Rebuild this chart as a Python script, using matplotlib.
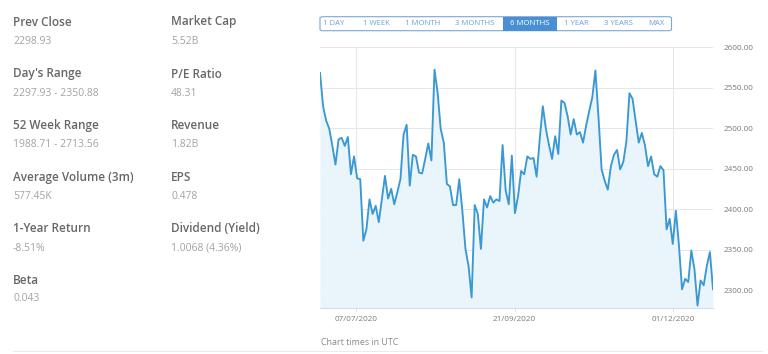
import matplotlib
matplotlib.use("Agg")
import matplotlib.pyplot as plt
from matplotlib.patches import FancyBboxPatch, Rectangle
from matplotlib.lines import Line2D
import numpy as np

plt.rcParams['font.family'] = ['Open Sans', 'DejaVu Sans']

# ---- data ----
prices = [2568, 2527, 2509, 2499, 2478, 2455, 2486, 2488, 2478, 2489,
          2443, 2465, 2438, 2437, 2361, 2375, 2412, 2394, 2404, 2384,
          2412, 2441, 2413, 2425, 2406, 2421, 2437, 2492, 2504, 2429,
          2467, 2465, 2445, 2444, 2462, 2481, 2460, 2572, 2544, 2499,
          2482, 2431, 2428, 2405, 2405, 2437, 2398, 2351, 2330, 2291,
          2405, 2394, 2351, 2412, 2402, 2416, 2408, 2412, 2410, 2479,
          2423, 2406, 2466, 2395, 2416, 2447, 2443, 2465, 2462, 2463,
          2440, 2486, 2527, 2499, 2479, 2462, 2490, 2468, 2534, 2531,
          2515, 2492, 2511, 2492, 2495, 2482, 2503, 2521, 2538, 2571,
          2513, 2449, 2435, 2424, 2453, 2467, 2473, 2449, 2458, 2483,
          2543, 2536, 2509, 2482, 2494, 2479, 2453, 2465, 2443, 2440,
          2453, 2448, 2375, 2388, 2357, 2398, 2355, 2301, 2314, 2310,
          2349, 2326, 2281, 2312, 2306, 2330, 2347, 2301]
x_tick_pos = [11.7, 62.9, 114.1]
x_tick_labels = ["07/07/2020", "21/09/2020", "01/12/2020"]
y_ticks = [2300, 2350, 2400, 2450, 2500, 2550, 2600]

stat_labels_col1 = ["Prev Close", "Day's Range", "52 Week Range",
                    "Average Volume (3m)", "1-Year Return", "Beta"]
stat_values_col1 = ["2298.93", "2297.93 - 2350.88", "1988.71 - 2713.56",
                    "577.45K", "-8.51%", "0.043"]
stat_labels_col2 = ["Market Cap", "P/E Ratio", "Revenue", "EPS",
                    "Dividend (Yield)"]
stat_values_col2 = ["5.52B", "48.31", "1.82B", "0.478", "1.0068 (4.36%)"]

range_buttons = ["1 DAY", "1 WEEK", "1 MONTH", "3 MONTHS", "6 MONTHS",
                 "1 YEAR", "3 YEARS", "MAX"]
selected_button = "6 MONTHS"

# ---- figure ----
W, H = 768, 354
fig = plt.figure(figsize=(W / 100, H / 100), dpi=100)
fig.patch.set_facecolor("white")

def fx(px):
    return px / W

def fy(py):
    return 1 - py / H

# chart axes
ax_left, ax_right, ax_top, ax_bot = 320, 713, 47, 308
ax = fig.add_axes([fx(ax_left), fy(ax_bot), fx(ax_right - ax_left),
                   (ax_bot - ax_top) / H])
xs = np.arange(len(prices))
ymin = 2278
line_color = "#3a98d2"
ax.fill_between(xs, prices, ymin, color="#e9f4fb", zorder=1, linewidth=0)
ax.plot(xs, prices, color=line_color, lw=1.35, zorder=3,
        solid_joinstyle="round")
ax.set_xlim(0, len(prices) - 1)
ax.set_ylim(ymin, 2600)
ax.set_yticks(y_ticks)
ax.set_yticklabels([f"{v:.2f}" for v in y_ticks])
ax.yaxis.tick_right()
ax.set_xticks(x_tick_pos)
ax.set_xticklabels(x_tick_labels)
ax.tick_params(axis="y", length=0, pad=7.5, labelsize=5.9, labelcolor="#7a7a7a")
ax.tick_params(axis="x", length=3, width=0.7, color="#dde3ea", pad=3,
               labelsize=5.9, labelcolor="#7a7a7a")
ax.grid(True, axis="both", color="#e4e8ec", lw=0.7, zorder=0)
ax.set_axisbelow(True)
for s in ["top", "left", "right"]:
    ax.spines[s].set_visible(False)
ax.spines["bottom"].set_color("#d6dee6")
ax.spines["bottom"].set_linewidth(0.8)
ax.patch.set_alpha(0)

# range buttons
bx0, bx1, by0, by1 = 320, 671.5, 16.7, 30.7
btn_centers = [334, 376.7, 422.3, 475, 530, 576.7, 618.3, 656]
btn_blue = "#4a8fd4"
fig.patches.append(FancyBboxPatch((fx(bx0), fy(by1)), fx(bx1 - bx0),
                                  (by1 - by0) / H,
                                  boxstyle="round,pad=0,rounding_size=0.004",
                                  transform=fig.transFigure, facecolor="white",
                                  edgecolor="#7aa6d8", lw=0.8))
fig.patches.append(Rectangle((fx(502.7), fy(by1)), fx(557.3 - 502.7),
                             (by1 - by0) / H, transform=fig.transFigure,
                             facecolor=btn_blue, edgecolor="none"))
for lbl, cx in zip(range_buttons, btn_centers):
    sel = lbl == selected_button
    fig.text(fx(cx), fy((by0 + by1) / 2), lbl, ha="center", va="center",
             fontsize=5.6, color="white" if sel else "#6f9fd6")

# stats panel
head_y = [22, 74, 126, 177.3, 229, 280]
val_y = [41.7, 93.7, 144.7, 196.3, 248.5, 298.7]
col_x = [13, 171.3]
for lbl, val, hy, vy in zip(stat_labels_col1, stat_values_col1, head_y, val_y):
    fig.text(fx(col_x[0]), fy(hy), lbl, ha="left", va="center",
             fontsize=8.5, fontweight="semibold", color="#676767")
    fig.text(fx(col_x[0]), fy(vy), val, ha="left", va="center",
             fontsize=7.5, color="#a3a3a3")
for lbl, val, hy, vy in zip(stat_labels_col2, stat_values_col2, head_y, val_y):
    fig.text(fx(col_x[1]), fy(hy), lbl, ha="left", va="center",
             fontsize=8.5, fontweight="semibold", color="#676767")
    fig.text(fx(col_x[1]), fy(vy), val, ha="left", va="center",
             fontsize=7.5, color="#a3a3a3")

fig.text(fx(321), fy(342.7), "Chart times in UTC", ha="left", va="center",
         fontsize=6.4, color="#8a8a8a")

fig.lines.append(Line2D([fx(13), fx(762)], [fy(350.5), fy(350.5)],
                        transform=fig.transFigure, color="#ececec", lw=0.8))

fig.savefig("out.png", dpi=100, facecolor="white")
